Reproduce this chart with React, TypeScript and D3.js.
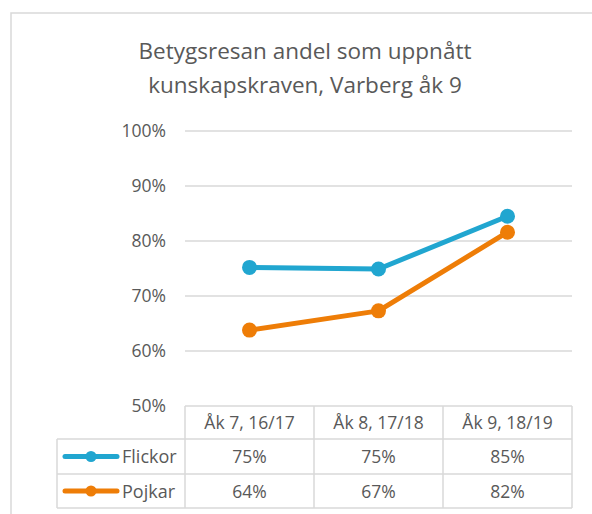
import React from 'react'
import * as d3 from 'd3'

const categories = ['Åk 7, 16/17', 'Åk 8, 17/18', 'Åk 9, 18/19']
const flickor = [75.2, 74.9, 84.5]
const pojkar = [63.8, 67.3, 81.6]
const flickorLabels = ['75%', '75%', '85%']
const pojkarLabels = ['64%', '67%', '82%']
const yTicks = [50, 60, 70, 80, 90, 100]

const W = 592
const H = 514
const left = 185
const right = 572
const top = 131
const bottom = 406
const rowH = [33, 35, 34]

const font = "'Open Sans', 'Liberation Sans', sans-serif"
const textColor = '#595959'
const gridColor = '#d9d9d9'

const App = () => {
  const x = d3.scaleBand().domain(categories).range([left, right])
  const y = d3.scaleLinear().domain([50, 100]).range([bottom, top])
  const line = d3.line<number>()
    .x((d, i) => x(categories[i])! + x.bandwidth() / 2)
    .y(d => y(d))

  const series = [
    { name: 'Flickor', values: flickor, labels: flickorLabels, color: '#21a6d0' },
    { name: 'Pojkar', values: pojkar, labels: pojkarLabels, color: '#ee7d07' },
  ]

  const r1 = bottom + rowH[0]
  const r2 = r1 + rowH[1]
  const r3 = r2 + rowH[2]
  const tableLeft = 57

  return (
    <svg width={W} height={H} style={{ position: 'absolute', left: 0, top: 0 }}>
      <rect x={0} y={0} width={W} height={H} fill="#fff" />
      <rect x={11} y={13} width={W + 10} height={H + 10} fill="#fff" stroke={gridColor} strokeWidth={1.5} />

      <text x={305} y={59} textAnchor="middle" fontFamily={font} fontSize={22.5} fill={textColor}>
        Betygsresan andel som uppnått
      </text>
      <text x={305} y={93} textAnchor="middle" fontFamily={font} fontSize={22.5} fill={textColor}>
        kunskapskraven, Varberg åk 9
      </text>

      {yTicks.map(t => (
        <g key={t}>
          {t > 50 && <line x1={left} x2={right} y1={y(t)} y2={y(t)} stroke={gridColor} strokeWidth={1.5} />}
          <text x={166} y={y(t) + 6} textAnchor="end" fontFamily={font} fontSize={17.5} fill={textColor}>
            {t}%
          </text>
        </g>
      ))}

      {/* data table */}
      <g stroke={gridColor} strokeWidth={1.5} fill="none">
        <line x1={left} x2={right} y1={bottom} y2={bottom} />
        <line x1={tableLeft} x2={right} y1={r1} y2={r1} />
        <line x1={tableLeft} x2={right} y1={r2} y2={r2} />
        <line x1={tableLeft} x2={right} y1={r3} y2={r3} />
        <line x1={tableLeft} x2={tableLeft} y1={r1} y2={r3} />
        {categories.map(c => (
          <line key={c} x1={x(c)} x2={x(c)} y1={bottom} y2={r3} />
        ))}
        <line x1={right} x2={right} y1={bottom} y2={r3} />
      </g>

      {categories.map(c => (
        <text key={c} x={x(c)! + x.bandwidth() / 2} y={bottom + 23} textAnchor="middle"
          fontFamily={font} fontSize={17.5} fill={textColor}>{c}</text>
      ))}

      {series.map((s, si) => {
        const ry = si === 0 ? r1 : r2
        const cy = ry + rowH[si + 1] / 2
        return (
          <g key={s.name}>
            <line x1={65} x2={117} y1={cy} y2={cy} stroke={s.color} strokeWidth={5} strokeLinecap="round" />
            <circle cx={91} cy={cy} r={5.5} fill={s.color} />
            <text x={122} y={cy + 6.5} fontFamily={font} fontSize={18} fill={textColor}>{s.name}</text>
            {s.labels.map((l, i) => (
              <text key={i} x={x(categories[i])! + x.bandwidth() / 2} y={cy + 6.5} textAnchor="middle"
                fontFamily={font} fontSize={17.5} fill={textColor}>{l}</text>
            ))}
          </g>
        )
      })}

      {series.map(s => (
        <g key={s.name}>
          <path d={line(s.values)!} fill="none" stroke={s.color} strokeWidth={5} strokeLinejoin="round" />
          {s.values.map((v, i) => (
            <circle key={i} cx={x(categories[i])! + x.bandwidth() / 2} cy={y(v)} r={7.5} fill={s.color} />
          ))}
        </g>
      ))}
    </svg>
  )
}

export default App
